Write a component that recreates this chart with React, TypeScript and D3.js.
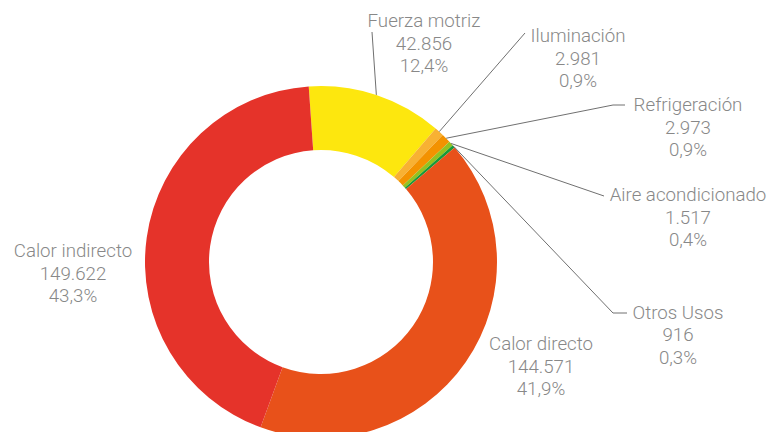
import React from "react";
import * as d3 from "d3";

const categories = [
  "Fuerza motriz",
  "Iluminación",
  "Refrigeración",
  "Aire acondicionado",
  "Otros Usos",
  "Calor directo",
  "Calor indirecto",
];
const values = [42856, 2981, 2973, 1517, 916, 144571, 149622];
const colors = ["#FDE70E", "#F8B133", "#F39200", "#95C11F", "#179A38", "#E8511A", "#E5332A"];

// label layout (centre x, first baseline, leader line end points)
const labelLayout: { cx: number; by: number; line: [number, number][] | null }[] = [
  { cx: 424, by: 27, line: [[372, 32]] },
  { cx: 578, by: 42, line: [[525, 33]] },
  { cx: 688, by: 111, line: [[613, 105], [625, 105]] },
  { cx: 688, by: 201, line: [[604, 196]] },
  { cx: 678, by: 318.5, line: [[613, 313], [627, 313]] },
  { cx: 541, by: 350, line: null },
  { cx: 73, by: 257, line: null },
];

const W = 767;
const H = 432;
const CX = 321;
const CY = 262;
const R = 176;
const r0 = 112;
const START = (-4 * Math.PI) / 180;
const LINE_H = 22.5;

const locale = d3.formatLocale({ decimal: ",", thousands: ".", grouping: [3], currency: ["", "€"] });
const fmtInt = locale.format(",d");
const fmtPct = locale.format(".1f");

export default function App() {
  const total = d3.sum(values);
  const data = categories.map((c, i) => ({ name: c, value: values[i], i }));
  const pie = d3
    .pie<any>()
    .sort(null)
    .value((d) => d.value)
    .startAngle(START)
    .endAngle(START + 2 * Math.PI);
  const arcs = pie(data);
  const arc = d3.arc<any>().innerRadius(r0).outerRadius(R);

  return (
    <svg
      width={W}
      height={H}
      style={{ position: "absolute", left: 0, top: 0, background: "#fff" }}
      fontFamily="Roboto, 'Open Sans', sans-serif"
    >
      <g transform={`translate(${CX},${CY})`}>
        {arcs.map((a, i) => (
          <path key={i} d={arc(a) as string} fill={colors[i]} />
        ))}
      </g>
      {arcs.map((a, i) => {
        const L = labelLayout[i];
        if (!L.line) return null;
        const mid = (a.startAngle + a.endAngle) / 2;
        const p0: [number, number] = [CX + R * Math.sin(mid), CY - R * Math.cos(mid)];
        const pts = [p0, ...L.line];
        return (
          <path
            key={"l" + i}
            d={d3.line()(pts) as string}
            fill="none"
            stroke="#707070"
            strokeWidth={1}
          />
        );
      })}
      {arcs.map((a, i) => {
        const L = labelLayout[i];
        const lines = [
          categories[i],
          fmtInt(values[i]),
          fmtPct((values[i] / total) * 100) + "%",
        ];
        return (
          <text
            key={"t" + i}
            x={L.cx}
            y={L.by}
            textAnchor="middle"
            fill="#888888"
            fontSize={18.7}
            fontWeight={300}
          >
            {lines.map((s, k) => (
              <tspan key={k} x={L.cx} y={L.by + k * LINE_H}>
                {s}
              </tspan>
            ))}
          </text>
        );
      })}
    </svg>
  );
}
